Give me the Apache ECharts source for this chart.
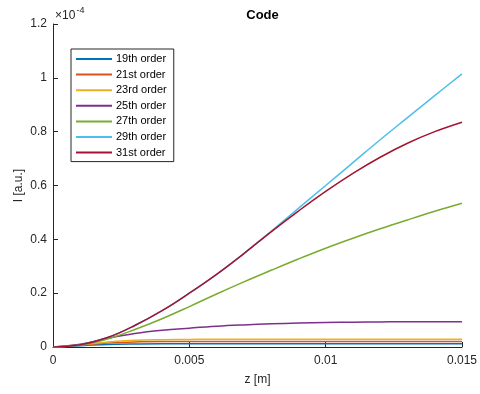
<!DOCTYPE html>
<html>
<head>
<meta charset="utf-8">
<script src="https://cdn.jsdelivr.net/npm/echarts@6/dist/echarts.min.js"></script>
<style>html,body{margin:0;padding:0;background:#fff}#c{width:480px;height:394px}</style>
</head>
<body>
<div id="c"></div>
<script>
// z positions [m]
var z = [0,0.001,0.002,0.003,0.004,0.005,0.006,0.007,0.008,0.009,0.010,0.011,0.012,0.013,0.014,0.015];
// intensities in units of 1e-4
var s19 = [0,0.005,0.009,0.011,0.012,0.012,0.012,0.012,0.012,0.012,0.012,0.012,0.012,0.012,0.012,0.012];
var s21 = [0,0.007,0.015,0.019,0.020,0.020,0.020,0.020,0.020,0.020,0.020,0.020,0.020,0.020,0.020,0.020];
var s23 = [0,0.008,0.019,0.025,0.027,0.028,0.029,0.029,0.029,0.029,0.029,0.029,0.029,0.029,0.029,0.029];
var s25 = [0,0.010,0.032,0.050,0.062,0.070,0.077,0.082,0.086,0.089,0.091,0.092,0.093,0.094,0.094,0.094];
var s27 = [0,0.007,0.030,0.065,0.105,0.150,0.197,0.242,0.285,0.327,0.367,0.404,0.439,0.472,0.504,0.534];
var s29 = [0,0.008,0.035,0.080,0.135,0.200,0.270,0.347,0.430,0.515,0.600,0.685,0.770,0.852,0.934,1.015];
var s31 = [0,0.008,0.035,0.080,0.135,0.200,0.270,0.347,0.428,0.505,0.578,0.645,0.705,0.757,0.800,0.835];
var names = ['19th order','21st order','23rd order','25th order','27th order','29th order','31st order'];
var seriesData = [s19,s21,s23,s25,s27,s29,s31];
var colors = ['#0072BD','#D95319','#EDB120','#7E2F8E','#77AC30','#4DBEEE','#A2142F'];
var yTicks = [0,0.2,0.4,0.6,0.8,1,1.2];
var xTicks = [0,0.005,0.01,0.015];

var font = '"Liberation Sans", Arial, Helvetica, sans-serif';
var axisCol = '#262626';
var chart = echarts.init(document.getElementById('c'), null, {renderer:'canvas'});
var series = names.map(function(n,i){
  return {
    name:n, type:'line', showSymbol:false, smooth:0.4,
    data: z.map(function(x,j){return [x, seriesData[i][j]];}),
    lineStyle:{width:1.5,color:colors[i]}, itemStyle:{color:colors[i]},
    animation:false
  };
});
chart.setOption({
  animation:false,
  color:colors,
  textStyle:{fontFamily:font},
  title:{text:'Code', left:257.5, textAlign:'center', top:4,
    textStyle:{fontFamily:font,fontSize:13,fontWeight:'bold',color:'#000'}},
  grid:{left:53,right:18,top:24,bottom:47,containLabel:false},
  legend:{
    orient:'vertical', left:71, top:49, data:names,
    icon:'rect', itemWidth:36, itemHeight:2, itemGap:1.6,
    padding:[3,7,2,5], borderColor:'#262626', borderWidth:1, backgroundColor:'#fff',
    textStyle:{fontFamily:font,fontSize:11,color:'#000',lineHeight:14,padding:[0,0,0,-1]}
  },
  xAxis:{
    type:'value', min:0, max:0.015, interval:0.005,
    name:'z [m]', nameLocation:'middle', nameGap:27, nameMoveOverlap:false,
    nameTextStyle:{fontFamily:font,fontSize:12,color:axisCol},
    axisLine:{show:true,lineStyle:{color:axisCol,width:1}},
    axisTick:{show:true,inside:true,length:5,lineStyle:{color:axisCol}},
    axisLabel:{fontFamily:font,fontSize:12,color:axisCol,margin:8,
      formatter:function(v){return String(parseFloat(v.toFixed(4)));}},
    splitLine:{show:false}
  },
  yAxis:{
    type:'value', min:0, max:1.2, interval:0.2,
    name:'I [a.u.]', nameLocation:'middle', nameGap:28, nameMoveOverlap:false,
    nameTextStyle:{fontFamily:font,fontSize:12,color:axisCol},
    axisLine:{show:true,lineStyle:{color:axisCol,width:1}},
    axisTick:{show:true,inside:true,length:5,lineStyle:{color:axisCol}},
    axisLabel:{fontFamily:font,fontSize:12,color:axisCol,margin:6,
      formatter:function(v){return String(parseFloat(v.toFixed(2)));}},
    splitLine:{show:false}
  },
  graphic:[
    {type:'text', left:55, top:10, style:{text:'\u00d710', font:'12px '+font, fill:axisCol}},
    {type:'text', left:76.5, top:6, style:{text:'-4', font:'9px '+font, fill:axisCol}}
  ],
  series:series
});
</script>
</body>
</html>
